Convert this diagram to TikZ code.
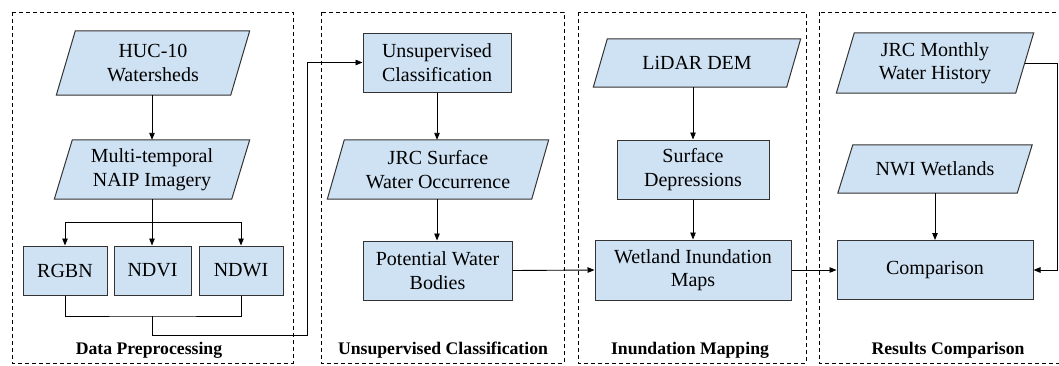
\documentclass[tikz,border=0pt]{standalone}
\usepackage{fontspec}
\setmainfont{Liberation Serif}
\newfontfamily\nodeserif{Liberation Serif}
\usetikzlibrary{arrows.meta,backgrounds}
\definecolor{boxfill}{HTML}{CFE2F3}
\definecolor{boxline}{HTML}{333333}
\tikzset{
  box/.style={draw=boxline, fill=boxfill, line width=1pt, inner sep=0pt, align=center,
    font=\nodeserif\fontsize{20}{23.5}\selectfont},
  parabox/.style={inner sep=0pt, align=center, font=\nodeserif\fontsize{20}{23.5}\selectfont},
  frame/.style={draw=black, line width=0.9pt, dash pattern=on 4pt off 3pt},
  conn/.style={draw=black, line width=0.9pt},
  arr/.style={conn, -{Triangle[length=7pt,width=5.5pt]}},
  lab/.style={font=\nodeserif\bfseries\fontsize{17.7}{20}\selectfont, inner sep=0pt}
}
\newcommand\paral[2]{%
  \begin{pgfonlayer}{background}
  \filldraw[draw=boxline, fill=boxfill, line width=1pt]
    ([xshift=#2]#1.north west) -- ([xshift=#2]#1.north east) --
    ([xshift=-#2]#1.south east) -- ([xshift=-#2]#1.south west) -- cycle;
  \end{pgfonlayer}}
\begin{document}
\begin{tikzpicture}[x=1pt,y=-1pt]
\useasboundingbox (0,0) rectangle (1059,365);
\clip (0,0) rectangle (1059,365);
% frames
\draw[frame] (12,12) rectangle (293,363);
\draw[frame] (321,12) rectangle (564,363);
\draw[frame] (578,12) rectangle (806,363);
\draw[frame] (819,12) rectangle (1066,363);
% labels
\node[lab] (l1) at (149,350) {Data Preprocessing};
\node[lab] (l2) at (443,350) {Unsupervised Classification};
\node[lab] (l3) at (690,350) {Inundation Mapping};
\node[lab] (l4) at (948,350) {Results Comparison};
% column 1
\node[parabox, minimum width=174, minimum height=64] (huc) at (153,63) {HUC-10\\Watersheds};
\paral{huc}{9.5}
\node[parabox, minimum width=177, minimum height=59] (naip) at (152,169.5) {Multi-temporal\\NAIP Imagery};
\paral{naip}{9}
\node[box, minimum width=84, minimum height=49] (rgbn) at (65,270.5) {RGBN};
\node[box, minimum width=77, minimum height=49] (ndvi) at (152.5,270.5) {NDVI};
\node[box, minimum width=84, minimum height=49] (ndwi) at (241,270.5) {NDWI};
% column 2
\node[box, minimum width=148, minimum height=59] (unsup) at (437,62.5) {Unsupervised\\Classification};
\node[parabox, minimum width=204, minimum height=59] (jrcs) at (438,169.5) {JRC Surface\\Water Occurrence};
\paral{jrcs}{8.5}
\node[box, minimum width=149, minimum height=59] (pwb) at (437.5,270.5) {Potential Water\\Bodies};
% column 3
\node[parabox, minimum width=193, minimum height=48] (lidar) at (697,63) {LiDAR DEM};
\paral{lidar}{7}
\node[box, minimum width=152, minimum height=59] (sdep) at (693,169.5) {Surface\\Depressions};
\node[box, minimum width=196, minimum height=60] (wim) at (693,270) {Wetland Inundation\\Maps};
% column 4
\node[parabox, minimum width=179, minimum height=60] (jrcm) at (935,63) {JRC Monthly\\Water History};
\paral{jrcm}{9}
\node[parabox, minimum width=179, minimum height=48] (nwi) at (935,169) {NWI Wetlands};
\paral{nwi}{7.5}
\node[box, minimum width=196, minimum height=59] (comp) at (935,270) {Comparison};
% connectors column 1
\draw[arr] (huc.south -| naip.south) -- (naip.north);
\coordinate (br) at (152,222);
\draw[conn] (naip.south) -- (br);
\draw[arr] (br) -| (rgbn.north);
\draw[arr] (br) -| (ndwi.north);
\draw[arr] (br) -- (br |- ndvi.north);
\coordinate (bt) at (152,316);
\draw[conn] (rgbn.south) |- (bt) -| (ndwi.south);
\coordinate (c1) at (152,335);
\coordinate (c2) at (307,335);
\draw[arr] (bt) -- (c1) -- (c2) |- (unsup.west);
% column 2
\draw[arr] (unsup.south) -- (unsup.south |- jrcs.north);
\draw[arr] (jrcs.south -| unsup.south) -- (unsup.south |- pwb.north);
\draw[arr] (pwb.east) -- (wim.west);
% column 3
\draw[arr] (lidar.south -| sdep.north) -- (sdep.north);
\draw[arr] (sdep.south) -- (wim.north);
\draw[arr] (wim.east) -- (comp.east -| comp.west);
% column 4
\coordinate (rr) at (1057,63);
\draw[arr] (jrcm.east) -- (rr) |- (comp.east);
\draw[arr] (nwi.south) -- (comp.north);
\end{tikzpicture}
\end{document}
